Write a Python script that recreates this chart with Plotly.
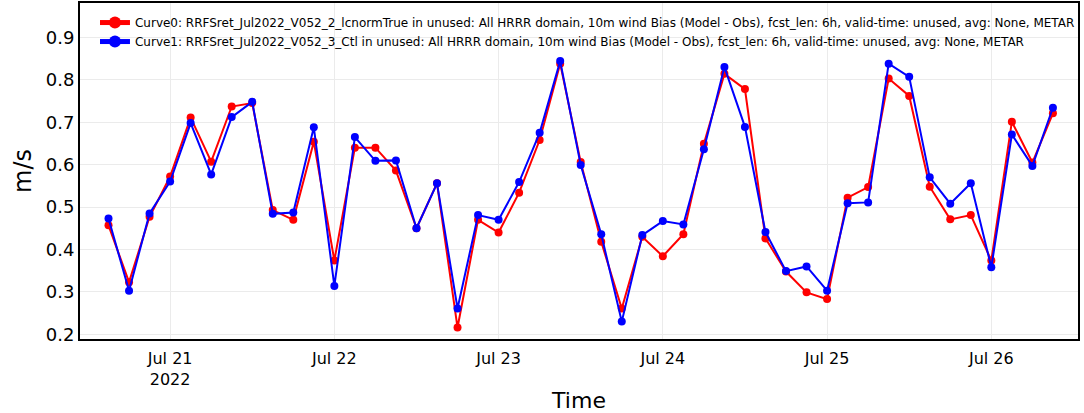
import pandas as pd
import plotly.graph_objects as go

times = pd.date_range("2022-07-20 15:00", "2022-07-26 09:00", freq="3h")

curve0 = [0.457, 0.323, 0.477, 0.572, 0.711, 0.607, 0.737, 0.745, 0.493, 0.470,
          0.654, 0.374, 0.640, 0.640, 0.586, 0.450, 0.556, 0.216, 0.470, 0.440,
          0.534, 0.658, 0.838, 0.606, 0.418, 0.261, 0.430, 0.384, 0.436, 0.649,
          0.814, 0.778, 0.426, 0.348, 0.299, 0.283, 0.522, 0.547, 0.803, 0.762,
          0.548, 0.471, 0.481, 0.374, 0.701, 0.605, 0.721]
curve1 = [0.473, 0.303, 0.485, 0.560, 0.698, 0.577, 0.712, 0.748, 0.484, 0.487,
          0.688, 0.314, 0.665, 0.609, 0.610, 0.450, 0.556, 0.261, 0.481, 0.470,
          0.559, 0.675, 0.844, 0.599, 0.436, 0.230, 0.434, 0.467, 0.459, 0.636,
          0.830, 0.689, 0.441, 0.349, 0.360, 0.303, 0.509, 0.511, 0.838, 0.807,
          0.570, 0.508, 0.556, 0.358, 0.671, 0.597, 0.734]

name0 = ("Curve0: RRFSret_Jul2022_V052_2_lcnormTrue in unused: All HRRR domain, 10m wind Bias "
         "(Model - Obs), fcst_len: 6h, valid-time: unused, avg: None, METAR")
name1 = ("Curve1: RRFSret_Jul2022_V052_3_Ctl in unused: All HRRR domain, 10m wind Bias "
         "(Model - Obs), fcst_len: 6h, valid-time: unused, avg: None, METAR")

font = "DejaVu Sans, Verdana, sans-serif"

fig = go.Figure()
fig.add_trace(go.Scatter(x=times, y=curve0, mode="lines+markers", name=name0,
                         line=dict(color="#ff0000", width=2),
                         marker=dict(color="#ff0000", size=8)))
fig.add_trace(go.Scatter(x=times, y=curve1, mode="lines+markers", name=name1,
                         line=dict(color="#0000ff", width=2),
                         marker=dict(color="#0000ff", size=8)))

fig.update_layout(
    width=1084, height=413,
    margin=dict(l=80, r=6, t=3, b=74),
    paper_bgcolor="white", plot_bgcolor="white",
    font=dict(family=font, color="black"),
    showlegend=True,
    legend=dict(x=0.015, y=0.985, xanchor="left", yanchor="top",
                bgcolor="rgba(255,255,255,0)", font=dict(size=12, family=font),
                tracegroupgap=0, itemsizing="constant"),
    xaxis=dict(
        title=dict(text="Time", font=dict(size=22), standoff=12),
        range=["2022-07-20 10:50", "2022-07-26 12:40"],
        type="date", dtick=86400000, tick0="2022-07-21",
        showgrid=True, gridcolor="#ebebeb", gridwidth=1,
        showline=True, linecolor="black", linewidth=2, mirror=True,
        ticks="outside", ticklen=4, tickcolor="rgba(0,0,0,0)",
        tickfont=dict(size=16), zeroline=False, automargin=False,
    ),
    yaxis=dict(
        title=dict(text="m/s", font=dict(size=24), standoff=7),
        range=[0.189, 0.981], dtick=0.1, tick0=0,
        showgrid=True, gridcolor="#ebebeb", gridwidth=1,
        showline=True, linecolor="black", linewidth=2, mirror=True,
        ticks="", tickfont=dict(size=18), zeroline=False, automargin=False,
    ),
)

fig.write_html("out.html", config={"displayModeBar": False},
               post_script="document.body.style.margin='0';")
